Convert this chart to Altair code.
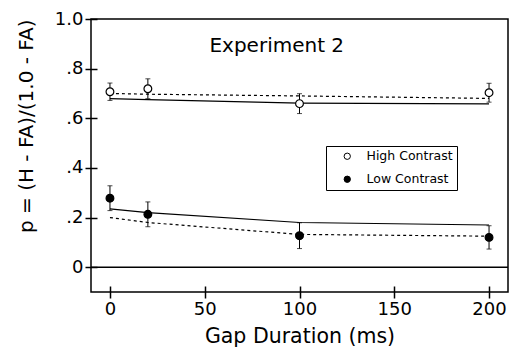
import altair as alt
import pandas as pd

# ---- data ----
gaps = [0, 20, 100, 200]
conds = ["High Contrast", "Low Contrast"]
high_obs = [0.707, 0.719, 0.659, 0.703]
high_err = [0.035, 0.040, 0.040, 0.038]
low_obs = [0.278, 0.213, 0.127, 0.120]
low_err = [0.050, 0.050, 0.052, 0.047]
high_solid = [0.679, 0.675, 0.661, 0.658]
high_dashed = [0.700, 0.697, 0.690, 0.680]
low_solid = [0.235, 0.220, 0.180, 0.170]
low_dashed = [0.200, 0.180, 0.132, 0.125]
ytick_values = [0, 0.2, 0.4, 0.6, 0.8, 1.0]
ytick_labels = ["0", ".2", ".4", ".6", ".8", "1.0"]
xtick_values = [0, 50, 100, 150, 200]
panel_title = ["Experiment 2"]
panel_title_pos = [88, 0.868]

FONT = "DejaVu Sans"

rows = []
for c, obs, err in [(conds[0], high_obs, high_err), (conds[1], low_obs, low_err)]:
    for g, o, e in zip(gaps, obs, err):
        rows.append({"gap": g, "p": o, "lo": o - e, "hi": o + e, "cond": c})
pts = pd.DataFrame(rows)

lrows = []
for name, vals in [("hs", high_solid), ("ls", low_solid)]:
    for g, v in zip(gaps, vals):
        lrows.append({"gap": g, "p": v, "series": name})
solid = pd.DataFrame(lrows)
drows = []
for name, vals in [("hd", high_dashed), ("ld", low_dashed)]:
    for g, v in zip(gaps, vals):
        drows.append({"gap": g, "p": v, "series": name})
dashed = pd.DataFrame(drows)

label_expr = "[" + ",".join("'%s'" % s for s in ytick_labels) + "][round(datum.value*5)]"

xscale = alt.Scale(domain=[-10, 210], nice=False, zero=False)
yscale = alt.Scale(domain=[-0.1, 1.0], nice=False, zero=False)

xaxis = alt.Axis(values=xtick_values, title="Gap Duration (ms)", domain=False, grid=False,
                 offset=-6, tickSize=12, tickWidth=1.5, tickColor="black",
                 labelFontSize=18, labelFont=FONT, labelColor="black", labelPadding=2,
                 titleFontSize=20.5, titleFont=FONT, titleFontWeight="normal", titleColor="black",
                 titlePadding=8)
yaxis = alt.Axis(values=ytick_values, labelExpr=label_expr, title="p = (H - FA)/(1.0 - FA)",
                 domain=False, grid=False, offset=-6, tickSize=12, tickWidth=1.5, tickColor="black",
                 labelFontSize=18, labelFont=FONT, labelColor="black", labelPadding=2,
                 titleFontSize=20, titleFont=FONT, titleFontWeight="normal", titleColor="black",
                 titlePadding=18, titleAnchor="end")

base_pts = alt.Chart(pts)

zero = alt.Chart(pd.DataFrame({"z": [0]})).mark_rule(color="black", strokeWidth=1.5).encode(
    y=alt.Y("z:Q", scale=yscale, axis=yaxis))

solid_lines = alt.Chart(solid).mark_line(color="black", strokeWidth=1.2).encode(
    x=alt.X("gap:Q", scale=xscale, axis=xaxis),
    y=alt.Y("p:Q", scale=yscale, axis=yaxis),
    detail="series:N")
dashed_lines = alt.Chart(dashed).mark_line(color="black", strokeWidth=1.2, strokeDash=[3, 3]).encode(
    x=alt.X("gap:Q", scale=xscale, axis=xaxis),
    y=alt.Y("p:Q", scale=yscale, axis=yaxis),
    detail="series:N")

err_rules = base_pts.mark_rule(color="black", strokeWidth=1).encode(
    x=alt.X("gap:Q", scale=xscale, axis=xaxis),
    y=alt.Y("lo:Q", scale=yscale, axis=yaxis),
    y2="hi:Q")
cap_lo = base_pts.mark_tick(color="black", orient="horizontal", size=5, thickness=1).encode(
    x=alt.X("gap:Q", scale=xscale, axis=xaxis),
    y=alt.Y("lo:Q", scale=yscale, axis=yaxis))
cap_hi = base_pts.mark_tick(color="black", orient="horizontal", size=5, thickness=1).encode(
    x=alt.X("gap:Q", scale=xscale, axis=xaxis),
    y=alt.Y("hi:Q", scale=yscale, axis=yaxis))

points = base_pts.mark_point(shape="circle", filled=True, size=60, stroke="black",
                             strokeWidth=1.2, opacity=1).encode(
    x=alt.X("gap:Q", scale=xscale, axis=xaxis),
    y=alt.Y("p:Q", scale=yscale, axis=yaxis),
    fill=alt.Fill("cond:N", scale=alt.Scale(domain=conds, range=["white", "black"]),
                  legend=alt.Legend(orient="none", legendX=235, legendY=127, title=None,
                                    strokeColor="black", fillColor="white", padding=4,
                                    symbolOffset=11, labelOffset=13, rowPadding=10,
                                    labelFontSize=12.5, labelFont=FONT, labelColor="black",
                                    symbolType="circle", symbolSize=40,
                                    symbolStrokeColor="black", symbolStrokeWidth=1)))

title_df = pd.DataFrame({"x": [panel_title_pos[0]], "y": [panel_title_pos[1]], "t": panel_title})
title_txt = alt.Chart(title_df).mark_text(fontSize=20, font=FONT, color="black",
                                          align="center", baseline="alphabetic").encode(
    x=alt.X("x:Q", scale=xscale, axis=xaxis),
    y=alt.Y("y:Q", scale=yscale, axis=yaxis),
    text="t:N")

chart = alt.layer(zero, solid_lines, dashed_lines, err_rules, cap_lo, cap_hi, points, title_txt).properties(
    width=417, height=273,
    autosize=alt.AutoSizeParams(type="none"),
    padding={"left": 91, "top": 19, "right": 1, "bottom": 59},
    background="white",
).configure_view(stroke="black", strokeWidth=1.5)

chart.save("out.html", embed_options={"renderer": "svg", "actions": False})
